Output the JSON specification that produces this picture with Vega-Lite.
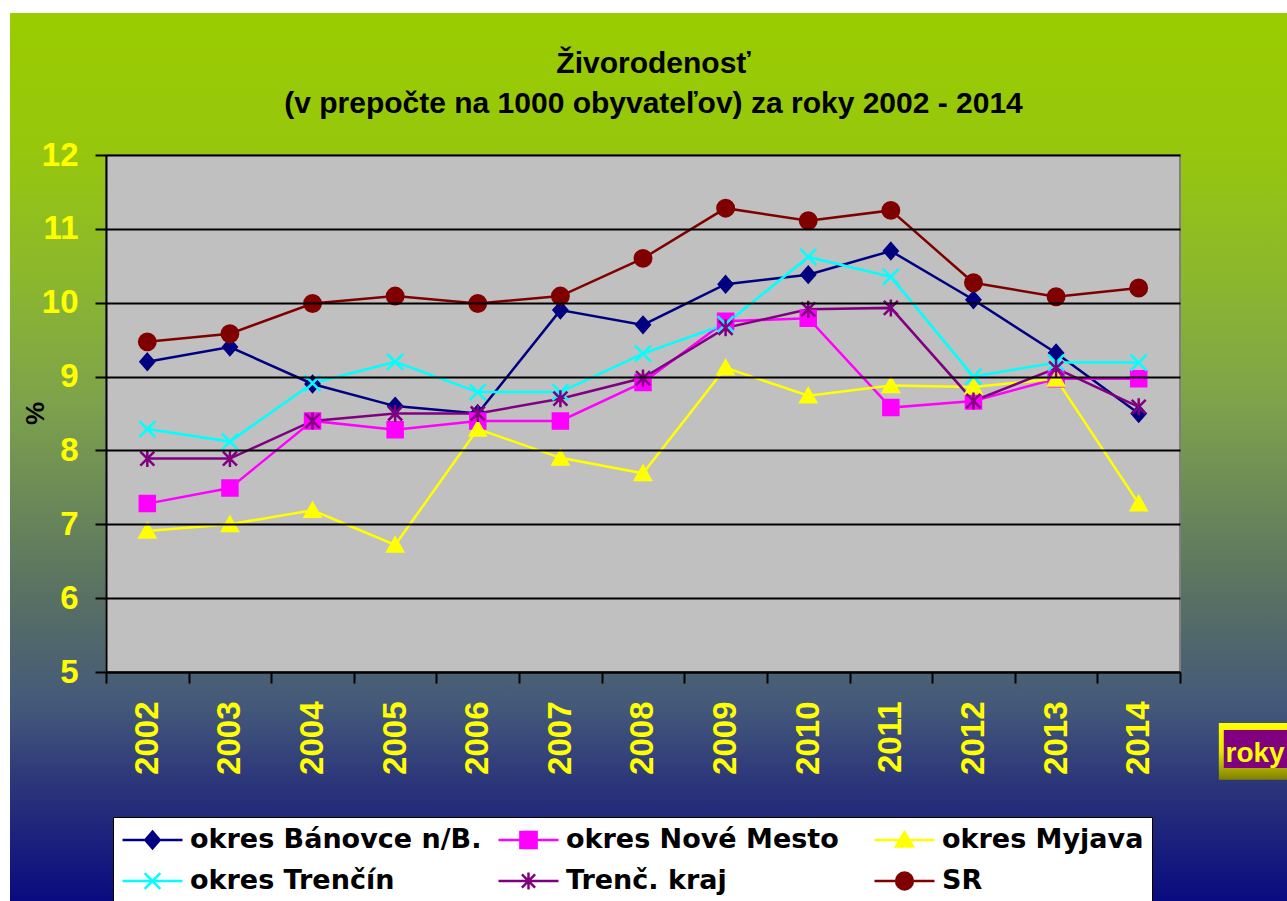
{
  "$schema": "https://vega.github.io/schema/vega-lite/v6.json",
  "width": 1277,
  "height": 888,
  "autosize": {"type": "none"},
  "padding": {"left": 10, "top": 13, "right": 0, "bottom": 0},
  "background": "white",
  "view": {
    "stroke": null,
    "fill": {
      "gradient": "linear", "x1": 0, "y1": 0, "x2": 0, "y2": 1,
      "stops": [
        {"offset": 0, "color": "#9ACC00"},
        {"offset": 0.15, "color": "#97C70C"},
        {"offset": 0.3, "color": "#8BB72E"},
        {"offset": 0.44, "color": "#7DA24C"},
        {"offset": 0.66, "color": "#587064"},
        {"offset": 0.78, "color": "#44597A"},
        {"offset": 0.87, "color": "#2B357A"},
        {"offset": 1, "color": "#0A0A80"}
      ]
    }
  },
  "title": {
    "text": ["Živorodenosť", "(v prepočte na 1000 obyvateľov) za roky 2002 - 2014"],
    "font": "Liberation Sans",
    "fontSize": 30,
    "fontWeight": "bold",
    "color": "black",
    "lineHeight": 40,
    "anchor": "middle",
    "offset": -106,
    "dx": 5
  },
  "data": {
    "values": [
      {"year": 2002, "series": "okres Bánovce n/B.", "value": 9.2},
      {"year": 2003, "series": "okres Bánovce n/B.", "value": 9.4},
      {"year": 2004, "series": "okres Bánovce n/B.", "value": 8.9},
      {"year": 2005, "series": "okres Bánovce n/B.", "value": 8.6},
      {"year": 2006, "series": "okres Bánovce n/B.", "value": 8.5},
      {"year": 2007, "series": "okres Bánovce n/B.", "value": 9.9},
      {"year": 2008, "series": "okres Bánovce n/B.", "value": 9.7},
      {"year": 2009, "series": "okres Bánovce n/B.", "value": 10.25},
      {"year": 2010, "series": "okres Bánovce n/B.", "value": 10.38},
      {"year": 2011, "series": "okres Bánovce n/B.", "value": 10.7},
      {"year": 2012, "series": "okres Bánovce n/B.", "value": 10.04},
      {"year": 2013, "series": "okres Bánovce n/B.", "value": 9.32},
      {"year": 2014, "series": "okres Bánovce n/B.", "value": 8.5},
      {"year": 2002, "series": "okres Nové Mesto", "value": 7.28},
      {"year": 2003, "series": "okres Nové Mesto", "value": 7.49},
      {"year": 2004, "series": "okres Nové Mesto", "value": 8.4},
      {"year": 2005, "series": "okres Nové Mesto", "value": 8.28},
      {"year": 2006, "series": "okres Nové Mesto", "value": 8.4},
      {"year": 2007, "series": "okres Nové Mesto", "value": 8.4},
      {"year": 2008, "series": "okres Nové Mesto", "value": 8.92},
      {"year": 2009, "series": "okres Nové Mesto", "value": 9.75},
      {"year": 2010, "series": "okres Nové Mesto", "value": 9.79},
      {"year": 2011, "series": "okres Nové Mesto", "value": 8.58},
      {"year": 2012, "series": "okres Nové Mesto", "value": 8.67},
      {"year": 2013, "series": "okres Nové Mesto", "value": 8.97},
      {"year": 2014, "series": "okres Nové Mesto", "value": 8.97},
      {"year": 2002, "series": "okres Myjava", "value": 6.91},
      {"year": 2003, "series": "okres Myjava", "value": 7.0},
      {"year": 2004, "series": "okres Myjava", "value": 7.19},
      {"year": 2005, "series": "okres Myjava", "value": 6.72},
      {"year": 2006, "series": "okres Myjava", "value": 8.29},
      {"year": 2007, "series": "okres Myjava", "value": 7.9},
      {"year": 2008, "series": "okres Myjava", "value": 7.69},
      {"year": 2009, "series": "okres Myjava", "value": 9.12},
      {"year": 2010, "series": "okres Myjava", "value": 8.74},
      {"year": 2011, "series": "okres Myjava", "value": 8.88},
      {"year": 2012, "series": "okres Myjava", "value": 8.86},
      {"year": 2013, "series": "okres Myjava", "value": 8.97},
      {"year": 2014, "series": "okres Myjava", "value": 7.28},
      {"year": 2002, "series": "okres Trenčín", "value": 8.29},
      {"year": 2003, "series": "okres Trenčín", "value": 8.12},
      {"year": 2004, "series": "okres Trenčín", "value": 8.91},
      {"year": 2005, "series": "okres Trenčín", "value": 9.2},
      {"year": 2006, "series": "okres Trenčín", "value": 8.79},
      {"year": 2007, "series": "okres Trenčín", "value": 8.79},
      {"year": 2008, "series": "okres Trenčín", "value": 9.31},
      {"year": 2009, "series": "okres Trenčín", "value": 9.71},
      {"year": 2010, "series": "okres Trenčín", "value": 10.62},
      {"year": 2011, "series": "okres Trenčín", "value": 10.35},
      {"year": 2012, "series": "okres Trenčín", "value": 9.0},
      {"year": 2013, "series": "okres Trenčín", "value": 9.19},
      {"year": 2014, "series": "okres Trenčín", "value": 9.19},
      {"year": 2002, "series": "Trenč. kraj", "value": 7.89},
      {"year": 2003, "series": "Trenč. kraj", "value": 7.89},
      {"year": 2004, "series": "Trenč. kraj", "value": 8.4},
      {"year": 2005, "series": "Trenč. kraj", "value": 8.5},
      {"year": 2006, "series": "Trenč. kraj", "value": 8.5},
      {"year": 2007, "series": "Trenč. kraj", "value": 8.7},
      {"year": 2008, "series": "Trenč. kraj", "value": 8.98},
      {"year": 2009, "series": "Trenč. kraj", "value": 9.66},
      {"year": 2010, "series": "Trenč. kraj", "value": 9.91},
      {"year": 2011, "series": "Trenč. kraj", "value": 9.93},
      {"year": 2012, "series": "Trenč. kraj", "value": 8.67},
      {"year": 2013, "series": "Trenč. kraj", "value": 9.11},
      {"year": 2014, "series": "Trenč. kraj", "value": 8.59},
      {"year": 2002, "series": "SR", "value": 9.47},
      {"year": 2003, "series": "SR", "value": 9.58},
      {"year": 2004, "series": "SR", "value": 9.99},
      {"year": 2005, "series": "SR", "value": 10.09},
      {"year": 2006, "series": "SR", "value": 9.99},
      {"year": 2007, "series": "SR", "value": 10.09},
      {"year": 2008, "series": "SR", "value": 10.6},
      {"year": 2009, "series": "SR", "value": 11.28},
      {"year": 2010, "series": "SR", "value": 11.11},
      {"year": 2011, "series": "SR", "value": 11.25},
      {"year": 2012, "series": "SR", "value": 10.27},
      {"year": 2013, "series": "SR", "value": 10.08},
      {"year": 2014, "series": "SR", "value": 10.2}
    ]
  },
  "resolve": {"scale": {"shape": "independent", "color": "independent", "stroke": "independent"}},
  "layer": [
    {
      "data": {"values": [{}]},
      "mark": {"type": "rect", "fill": "#C0C0C0", "stroke": "#808080", "strokeWidth": 2},
      "encoding": {
        "x": {"datum": 2001.5, "type": "quantitative", "axis": {"title": "roky"}},
        "x2": {"datum": 2014.5},
        "y": {"datum": 5, "type": "quantitative", "axis": {"title": "%"}},
        "y2": {"datum": 12}
      }
    },
    {
      "mark": {"type": "line", "strokeWidth": 2.5},
      "encoding": {
        "x": {
          "field": "year", "type": "quantitative",
          "scale": {"domain": [2001.5, 2014.5], "range": [96, 1170], "nice": false, "zero": false},
          "axis": {
            "title": "roky",
            "values": [2001.5, 2002.5, 2003.5, 2004.5, 2005.5, 2006.5, 2007.5, 2008.5, 2009.5, 2010.5, 2011.5, 2012.5, 2013.5, 2014.5],
            "labelExpr": "datum.value < 2014 ? '' + (datum.value + 0.5) : ''",
            "labelOffset": 41.3,
            "labelAngle": 270,
            "labelFont": "Liberation Sans", "labelFontSize": 33, "labelFontWeight": "bold", "labelColor": "#FFFF00",
            "labelPadding": 18, "labelOverlap": false, "labelFlush": false, "labelBound": false,
            "offset": -229, "grid": false,
            "domainColor": "black", "domainWidth": 2,
            "tickColor": "black", "tickWidth": 2, "tickSize": 11,
            "titleFont": "Liberation Sans", "titleFontSize": 28, "titleFontWeight": "bold", "titleColor": "#FFFF00",
            "titleX": 1215, "titleY": 89, "titleAlign": "left", "titleBaseline": "alphabetic", "titleAngle": 0,
            "zindex": 1
          }
        },
        "y": {
          "field": "value", "type": "quantitative",
          "scale": {"domain": [5, 12], "range": [659, 142], "nice": false, "zero": false},
          "axis": {
            "title": "%",
            "values": [5, 6, 7, 8, 9, 10, 11, 12],
            "format": "d",
            "offset": -96,
            "grid": true,
            "gridColor": "black",
            "gridWidth": 2,
            "domainColor": "black", "domainWidth": 2,
            "tickColor": "black", "tickWidth": 2, "tickSize": 11,
            "labelFont": "Liberation Sans", "labelFontSize": 33, "labelFontWeight": "bold", "labelColor": "#FFFF00",
            "labelPadding": 17, "labelOverlap": false, "labelFlush": false, "labelBound": false,
            "titleFont": "Liberation Sans", "titleFontSize": 26, "titleFontWeight": "bold", "titleColor": "black",
            "titleX": -71, "titleY": 400, "titleAngle": 270, "titleAlign": "center", "titleBaseline": "middle",
            "zindex": 1
          }
        },
        "stroke": {
          "field": "series", "type": "nominal", "legend": null,
          "scale": {
            "domain": ["okres Bánovce n/B.", "okres Nové Mesto", "okres Myjava", "okres Trenčín", "Trenč. kraj", "SR"],
            "range": ["#000080", "#FF00FF", "#FFFF00", "#00FFFF", "#800080", "#800000"]
          }
        }
      }
    },
    {
      "mark": {"type": "point", "filled": true, "size": 400, "strokeWidth": 2.5, "opacity": 1},
      "encoding": {
        "x": {"field": "year", "type": "quantitative", "axis": {"title": "roky"}},
        "y": {"field": "value", "type": "quantitative", "axis": {"title": "%"}},
        "color": {
          "field": "series", "type": "nominal", "legend": null,
          "scale": {
            "domain": ["okres Bánovce n/B.", "okres Nové Mesto", "okres Myjava", "okres Trenčín", "Trenč. kraj", "SR"],
            "range": ["#000080", "#FF00FF", "#FFFF00", "#00FFFF", "#800080", "#800000"]
          }
        },
        "stroke": {
          "field": "series", "type": "nominal", "legend": null,
          "scale": {
            "domain": ["okres Bánovce n/B.", "okres Nové Mesto", "okres Myjava", "okres Trenčín", "Trenč. kraj", "SR"],
            "range": ["#000080", "#FF00FF", "#FFFF00", "#00FFFF", "#800080", "#800000"]
          }
        },
        "shape": {
          "field": "series", "type": "nominal", "legend": null,
          "scale": {
            "domain": ["okres Bánovce n/B.", "okres Nové Mesto", "okres Myjava", "okres Trenčín", "Trenč. kraj", "SR"],
            "range": [
              "M0,-0.78L0.68,0L0,0.78L-0.68,0Z",
              "M-0.75,-0.75H0.75V0.75H-0.75Z",
              "M0,-0.72L0.78,0.66H-0.78Z",
              "M-0.8,-0.8L0.8,0.8M-0.8,0.8L0.8,-0.8",
              "M-0.7,-0.7L0.7,0.7M-0.7,0.7L0.7,-0.7M0,-0.85V0.85",
              "M-0.82,0A0.82,0.82 0 1,0 0.82,0A0.82,0.82 0 1,0 -0.82,0Z"
            ]
          }
        }
      }
    },
    {
      "transform": [{"filter": "false"}],
      "mark": {"type": "point", "filled": true, "size": 3600, "strokeWidth": 2.5, "opacity": 1},
      "encoding": {
        "x": {"field": "year", "type": "quantitative", "axis": {"title": "roky"}},
        "y": {"field": "value", "type": "quantitative", "axis": {"title": "%"}},
        "color": {
          "field": "series", "type": "nominal",
          "scale": {
            "domain": ["okres Bánovce n/B.", "okres Nové Mesto", "okres Myjava", "okres Trenčín", "Trenč. kraj", "SR"],
            "range": ["#000080", "#FF00FF", "#FFFF00", "#00FFFF", "#800080", "#800000"]
          },
          "legend": {
            "title": null, "orient": "none", "legendX": 103, "legendY": 804,
            "direction": "horizontal", "columns": 3, "gridAlign": "all",
            "fillColor": "white", "strokeColor": "black", "padding": 8,
            "symbolSize": 3600, "symbolStrokeWidth": 2.5, "clipHeight": 30,
            "rowPadding": 11, "columnPadding": 15,
            "labelFont": "DejaVu Sans", "labelFontSize": 27, "labelFontWeight": "bold", "labelColor": "black",
            "labelLimit": 500, "labelOffset": 6
          }
        },
        "stroke": {
          "field": "series", "type": "nominal",
          "scale": {
            "domain": ["okres Bánovce n/B.", "okres Nové Mesto", "okres Myjava", "okres Trenčín", "Trenč. kraj", "SR"],
            "range": ["#000080", "#FF00FF", "#FFFF00", "#00FFFF", "#800080", "#800000"]
          },
          "legend": {
            "title": null, "orient": "none", "legendX": 103, "legendY": 804,
            "direction": "horizontal", "columns": 3, "gridAlign": "all",
            "fillColor": "white", "strokeColor": "black", "padding": 8,
            "symbolSize": 3600, "symbolStrokeWidth": 2.5, "clipHeight": 30,
            "rowPadding": 11, "columnPadding": 15,
            "labelFont": "DejaVu Sans", "labelFontSize": 27, "labelFontWeight": "bold", "labelColor": "black",
            "labelLimit": 500, "labelOffset": 6
          }
        },
        "shape": {
          "field": "series", "type": "nominal",
          "scale": {
            "domain": ["okres Bánovce n/B.", "okres Nové Mesto", "okres Myjava", "okres Trenčín", "Trenč. kraj", "SR"],
            "range": [
              "M-1,0H1M0,-0.28L0.24,0L0,0.28L-0.24,0Z",
              "M-1,0H1M-0.27,-0.27H0.27V0.27H-0.27Z",
              "M-1,0H1M0,-0.26L0.28,0.22H-0.28Z",
              "M-1,0H1M-0.26,-0.26L0.26,0.26M-0.26,0.26L0.26,-0.26",
              "M-1,0H1M-0.22,-0.22L0.22,0.22M-0.22,0.22L0.22,-0.22M0,-0.28V0.28",
              "M-1,0H1M-0.28,0A0.28,0.28 0 1,0 0.28,0A0.28,0.28 0 1,0 -0.28,0Z"
            ]
          },
          "legend": {
            "title": null, "orient": "none", "legendX": 103, "legendY": 804,
            "direction": "horizontal", "columns": 3, "gridAlign": "all",
            "fillColor": "white", "strokeColor": "black", "padding": 8,
            "symbolSize": 3600, "symbolStrokeWidth": 2.5, "clipHeight": 30,
            "rowPadding": 11, "columnPadding": 15,
            "labelFont": "DejaVu Sans", "labelFontSize": 27, "labelFontWeight": "bold", "labelColor": "black",
            "labelLimit": 500, "labelOffset": 6
          }
        }
      }
    },
    {
      "data": {"values": [{}]},
      "mark": {
        "type": "rect",
        "fill": {
          "gradient": "linear", "x1": 0, "y1": 0, "x2": 0, "y2": 1,
          "stops": [
            {"offset": 0, "color": "#FFFF00"},
            {"offset": 0.5, "color": "#E6E600"},
            {"offset": 1, "color": "#808000"}
          ]
        }
      },
      "encoding": {
        "x": {"datum": 2014.97, "type": "quantitative", "axis": {"title": "roky"}},
        "x2": {"datum": 2016.3},
        "y": {"datum": 4.31, "type": "quantitative", "axis": {"title": "%"}},
        "y2": {"datum": 3.54}
      }
    },
    {
      "data": {"values": [{}]},
      "mark": {"type": "rect", "fill": "#800080"},
      "encoding": {
        "x": {"datum": 2015.03, "type": "quantitative", "axis": {"title": "roky"}},
        "x2": {"datum": 2016.3},
        "y": {"datum": 4.215, "type": "quantitative", "axis": {"title": "%"}},
        "y2": {"datum": 3.7}
      }
    }
  ]
}
